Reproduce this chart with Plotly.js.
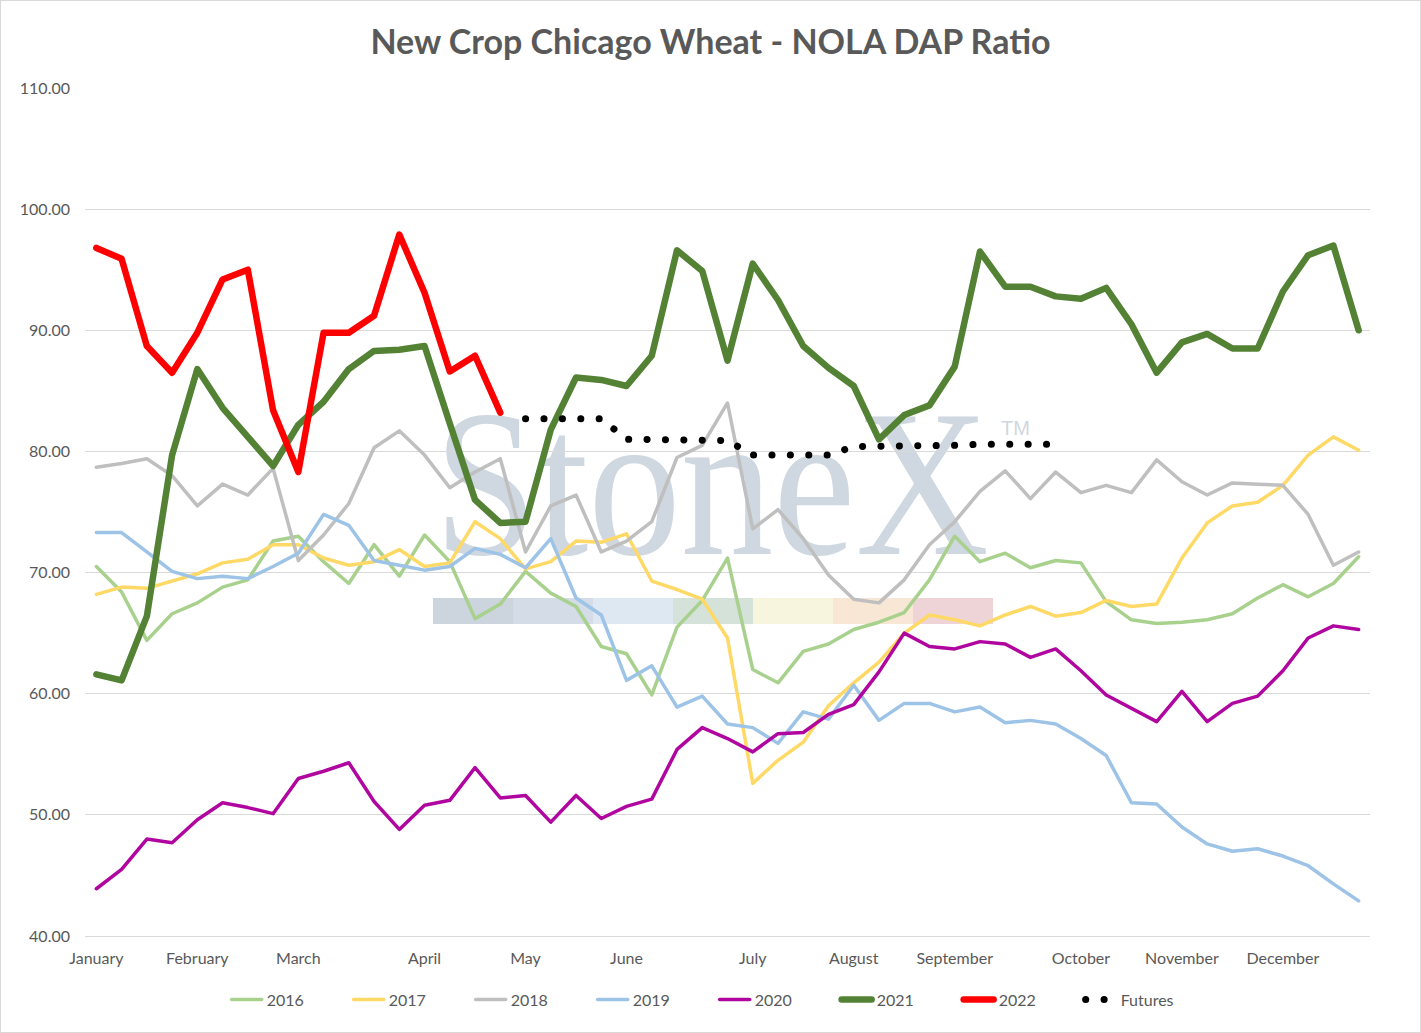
<!DOCTYPE html>
<html>
<head>
<meta charset="utf-8">
<script src="https://cdn.plot.ly/plotly-3.0.1.min.js"></script>
<style>
  body { margin: 0; background: #ffffff; }
  #myDiv { width: 1419px; height: 1031px; border: 1px solid #d9d9d9; }
  .js-line { stroke-linecap: round; stroke-linejoin: round; }
</style>
</head>
<body>
<div id="myDiv"></div>
<script>
// weekly points, week 0 = first week of January
var weeks = [];
for (var i = 0; i < 51; i++) weeks.push(i);

var monthWeeks = [0, 4, 8, 13, 17, 21, 26, 30, 34, 39, 43, 47];
var monthNames = ['January', 'February', 'March', 'April', 'May', 'June',
                  'July', 'August', 'September', 'October', 'November', 'December'];

var y2016 = [70.5, 68.4, 64.4, 66.6, 67.5, 68.8, 69.4, 72.6, 73.0, 70.9, 69.1, 72.3, 69.7, 73.1, 70.9, 66.2, 67.4,
             70.1, 68.3, 67.2, 63.9, 63.3, 59.9, 65.5, 67.7, 71.2, 62.0, 60.9, 63.5, 64.1, 65.3, 65.9, 66.7,
             69.4, 73.0, 70.9, 71.6, 70.4, 71.0, 70.8, 67.6, 66.1, 65.8, 65.9, 66.1, 66.6, 67.9, 69.0, 68.0, 69.1, 71.3];
var y2017 = [68.2, 68.8, 68.7, 69.3, 69.9, 70.8, 71.1, 72.3, 72.3, 71.2, 70.6, 70.9, 71.9, 70.5, 70.8, 74.2, 72.8,
             70.3, 70.9, 72.6, 72.5, 73.2, 69.3, 68.6, 67.8, 64.6, 52.6, 54.5, 56.0, 59.0, 60.9, 62.6, 65.0,
             66.5, 66.1, 65.6, 66.5, 67.2, 66.4, 66.7, 67.7, 67.2, 67.4, 71.2, 74.1, 75.5, 75.8, 77.2, 79.7, 81.2, 80.1];
var y2018 = [78.7, 79.0, 79.4, 78.0, 75.5, 77.3, 76.4, 78.6, 71.0, 73.1, 75.7, 80.3, 81.7, 79.7, 77.0, 78.3, 79.4,
             71.7, 75.5, 76.4, 71.7, 72.6, 74.2, 79.5, 80.5, 84.0, 73.6, 75.2, 72.8, 69.8, 67.8, 67.5, 69.4,
             72.3, 74.2, 76.7, 78.4, 76.1, 78.3, 76.6, 77.2, 76.6, 79.3, 77.5, 76.4, 77.4, 77.3, 77.2, 74.8, 70.6, 71.7];
var y2019 = [73.3, 73.3, 71.7, 70.1, 69.5, 69.7, 69.5, 70.5, 71.6, 74.8, 73.9, 71.0, 70.6, 70.2, 70.5, 72.0, 71.5,
             70.4, 72.8, 67.9, 66.5, 61.1, 62.3, 58.9, 59.8, 57.5, 57.2, 55.9, 58.5, 57.9, 60.7, 57.8, 59.2,
             59.2, 58.5, 58.9, 57.6, 57.8, 57.5, 56.3, 54.9, 51.0, 50.9, 49.0, 47.6, 47.0, 47.2, 46.6, 45.8, 44.3, 42.9];
var y2020 = [43.9, 45.5, 48.0, 47.7, 49.6, 51.0, 50.6, 50.1, 53.0, 53.6, 54.3, 51.1, 48.8, 50.8, 51.2, 53.9, 51.4,
             51.6, 49.4, 51.6, 49.7, 50.7, 51.3, 55.4, 57.2, 56.3, 55.2, 56.7, 56.8, 58.3, 59.1, 61.8, 65.0,
             63.9, 63.7, 64.3, 64.1, 63.0, 63.7, 61.9, 59.9, 58.8, 57.7, 60.2, 57.7, 59.2, 59.8, 61.9, 64.6, 65.6, 65.3];
var y2021 = [61.6, 61.1, 66.4, 79.7, 86.8, 83.6, 81.2, 78.8, 82.2, 84.1, 86.8, 88.3, 88.4, 88.7, 82.3, 76.0, 74.1,
             74.2, 81.8, 86.1, 85.9, 85.4, 87.9, 96.6, 94.9, 87.5, 95.5, 92.5, 88.7, 86.9, 85.4, 81.0, 83.0,
             83.8, 87.0, 96.5, 93.6, 93.6, 92.8, 92.6, 93.5, 90.5, 86.5, 89.0, 89.7, 88.5, 88.5, 93.2, 96.2, 97.0, 90.0];
var y2022 = [96.8, 95.9, 88.7, 86.5, 89.8, 94.2, 95.0, 83.4, 78.3, 89.8, 89.8, 91.2, 97.9, 93.1, 86.6, 87.9, 83.2];
var futuresWeeks = [17, 18, 19, 20, 21, 22, 23, 24, 25, 26, 27, 28, 29, 30, 31, 32, 33, 34, 35, 36, 37, 38];
var futures = [82.7, 82.7, 82.7, 82.7, 81.0, 81.0, 81.0, 81.0, 80.9, 79.7, 79.7, 79.7, 79.7,
               80.4, 80.4, 80.4, 80.4, 80.5, 80.6, 80.6, 80.6, 80.6];

var seriesNames = ['2016', '2017', '2018', '2019', '2020', '2021', '2022'];
var seriesValues = [y2016, y2017, y2018, y2019, y2020, y2021, y2022];
var seriesColors = ['#a9d18e', '#ffd966', '#bfbfbf', '#9dc3e6', '#b0069f', '#548235', '#ff0000'];
var seriesWidths = [3.5, 3.5, 3.5, 3.5, 3.5, 6.5, 6.5];

var data = [];
for (var s = 0; s < seriesNames.length; s++) {
    data.push({
        x: weeks.slice(0, seriesValues[s].length),
        y: seriesValues[s],
        name: seriesNames[s],
        type: 'scatter',
        mode: 'lines',
        line: {color: seriesColors[s], width: seriesWidths[s]},
        hoverinfo: 'skip'
    });
}
data.push({
    x: futuresWeeks,
    y: futures,
    name: 'Futures',
    type: 'scatter',
    mode: 'lines',
    line: {color: '#000000', width: 7, dash: '0.1px,18.3px'},
    hoverinfo: 'skip'
});

// StoneX watermark, drawn under the lines
var barColors = ['#ccd4de', '#d3dce7', '#dde8f3', '#d4e2da', '#f7f5de', '#f8e7d4', '#eed4d7'];
var svg = '<svg xmlns="http://www.w3.org/2000/svg" width="600" height="230" viewBox="0 0 600 230">';
svg += '<text x="4" y="154" font-family="Liberation Serif" font-size="210" fill="#cfd7e1" ' +
       'textLength="555" lengthAdjust="spacingAndGlyphs">StoneX</text>';
svg += '<text x="571" y="35" font-family="Liberation Sans" font-size="20" fill="#cfd7e1">TM</text>';
for (var b = 0; b < barColors.length; b++) {
    svg += '<rect x="' + (3 + b * 80) + '" y="198" width="80" height="26" fill="' + barColors[b] + '"/>';
}
svg += '</svg>';

var layout = {
    width: 1419,
    height: 1031,
    margin: {l: 84, r: 50, t: 87, b: 96},
    paper_bgcolor: '#ffffff',
    plot_bgcolor: '#ffffff',
    font: {family: 'Lato, sans-serif', color: '#595959', size: 16},
    title: {
        text: '<b>New Crop Chicago Wheat - NOLA DAP Ratio</b>',
        font: {family: 'Lato, sans-serif', size: 34, color: '#595959'},
        x: 0.5, xanchor: 'center', y: 0.96, yanchor: 'middle'
    },
    showlegend: true,
    legend: {
        orientation: 'h',
        x: 0.49, xanchor: 'center',
        y: -0.055, yanchor: 'top',
        font: {size: 16, color: '#595959'},
        entrywidth: 77, entrywidthmode: 'pixels',
        traceorder: 'normal'
    },
    xaxis: {
        range: [-0.45, 50.45],
        tickvals: monthWeeks,
        ticktext: monthNames,
        showgrid: false,
        zeroline: false,
        showline: true,
        linecolor: '#d9d9d9',
        linewidth: 1,
        ticks: '',
        ticklabelstandoff: 8,
        tickfont: {size: 16, color: '#595959'}
    },
    yaxis: {
        range: [40, 110],
        dtick: 10,
        tickformat: '.2f',
        showgrid: true,
        gridcolor: '#d9d9d9',
        gridwidth: 1,
        zeroline: false,
        showline: false,
        ticks: '',
        ticklabelstandoff: 14,
        tickfont: {size: 16, color: '#595959'}
    },
    images: [{
        source: 'data:image/svg+xml;charset=utf-8,' + encodeURIComponent(svg),
        xref: 'paper', yref: 'paper',
        x: (430 - 85) / 1285, y: (936 - 400) / 848,
        sizex: 600 / 1285, sizey: 230 / 848,
        xanchor: 'left', yanchor: 'top',
        sizing: 'stretch',
        layer: 'below'
    }]
};

Plotly.newPlot('myDiv', data, layout, {staticPlot: true});
</script>
</body>
</html>
